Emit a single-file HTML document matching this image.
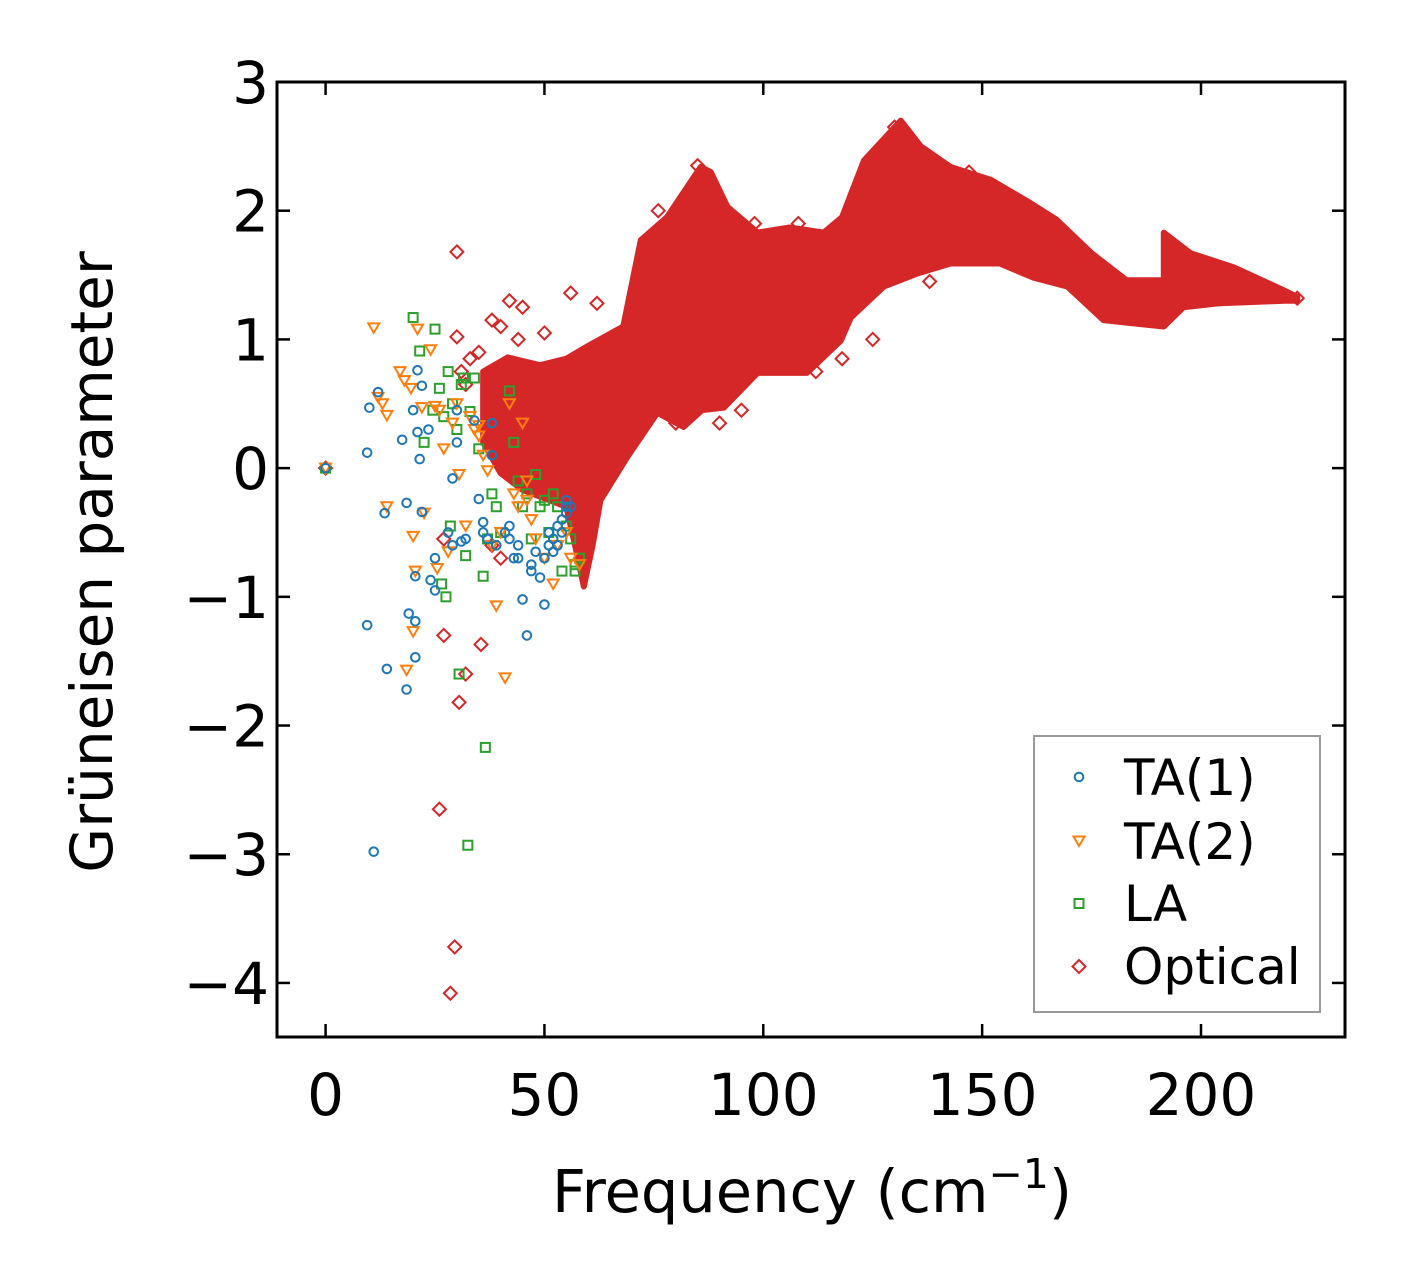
<!DOCTYPE html>
<html><head><meta charset="utf-8">
<style>
html,body{margin:0;padding:0;background:#fff;}
svg{display:block;font-family:"DejaVu Sans","Liberation Sans",sans-serif;}
</style></head>
<body>
<svg id="chart" width="1406" height="1286" viewBox="0 0 1406 1286"></svg>
<script>
// ---- data ----
const xTicks = [0, 50, 100, 150, 200];
const yTicks = [-4, -3, -2, -1, 0, 1, 2, 3];
const yTickLabels = ["\u22124", "\u22123", "\u22122", "\u22121", "0", "1", "2", "3"];
const ta1X = [0,9.5,10,12,13.5,17.5,18.5,20,21,21,21.5,22,22,23.5,9.5,11,14,18.5,19,20.5,20.5,20.5,24,25,25,28,29,29,30,31,32,35,36,36,38,38,39,41,42,43,44,45,46,47,48,49,50,50,51,52,53,54,55,55,53,56,47,44,42,37,30,34,54,55,52,51];
const ta1Y = [0,0.12,0.47,0.59,-0.35,0.22,-0.27,0.45,0.76,0.28,0.07,0.64,-0.34,0.3,-1.22,-2.98,-1.56,-1.72,-1.13,-1.19,-1.47,-0.84,-0.87,-0.7,-0.95,-0.5,-0.6,-0.08,0.2,-0.57,-0.55,-0.24,-0.42,-0.5,0.35,0.1,-0.6,-0.5,-0.55,-0.7,-0.6,-1.02,-1.3,-0.75,-0.65,-0.85,-1.06,-0.7,-0.6,-0.55,-0.45,-0.4,-0.35,-0.25,-0.6,-0.3,-0.8,-0.7,-0.45,-0.55,0.45,0.37,-0.5,-0.3,-0.65,-0.5];
const ta2X = [0,11,12,13,14,14,17,18,18.5,19.5,20,20,20.5,21,22,22.5,24,25,25.5,26,27,28,29,30,30.5,32,33,34,35,36,37,38,39,40,41,42,43,44,45,46,47,48,50,52,53,55,56,58,35,46];
const ta2Y = [0,1.09,0.55,0.5,0.41,-0.3,0.75,0.68,-1.57,0.62,-1.27,-0.53,-0.8,1.08,0.47,-0.35,0.92,0.48,-0.78,0.45,0.15,-0.65,0.35,0.5,-0.05,-0.45,0.4,0.3,0.25,0.1,-0.02,-0.6,-1.07,-0.5,-1.63,0.5,-0.2,-0.3,0.35,-0.25,-0.4,-0.55,-0.7,-0.9,-0.6,-0.5,-0.7,-0.75,0.33,-0.1];
const laX = [0,20,21.5,22.5,25,24.5,26,27,27.5,26.5,28,28.5,29,30,30.5,31,31.5,32,32.5,33,34,35,36,36.5,37,38,39,40,42,43,44,45,46,47,48,49,50,51,52,53,55,56,57,57,58,54];
const laY = [0,1.17,0.91,0.2,1.08,0.45,0.62,0.4,-1.0,-0.9,0.75,-0.45,0.5,0.3,-1.6,0.65,0.7,-0.68,-2.93,0.44,0.7,0.15,-0.84,-2.17,-0.55,-0.2,-0.3,-0.5,0.6,0.2,-0.1,-0.3,-0.2,-0.55,-0.05,-0.3,-0.25,-0.5,-0.2,-0.3,-0.45,-0.55,-0.75,-0.8,-0.7,-0.8];
// optical dense band envelope (upper and lower edges)
const bandUpX = [36,41.6,49,55,60,68,72,78,85.7,88,91.8,98.7,106,113.8,118,123,131.4,136,142.8,152,161,167,175,183,191.5,191.5,197.6,207.5,219,222];
const bandUpY = [0.75,0.86,0.8,0.85,0.95,1.1,1.77,1.95,2.34,2.3,2.03,1.83,1.87,1.83,1.95,2.39,2.7,2.5,2.34,2.24,2.06,1.93,1.67,1.46,1.46,1.83,1.67,1.56,1.38,1.33];
const bandLoX = [36,40,45,55,57,59,61,62.8,69,75.8,81.8,86,91,98.7,110,117.7,120,127.5,135,142.8,154,161.7,169.5,177.7,191.5,196,203.8,219,222];
const bandLoY = [0.2,-0.04,-0.17,-0.3,-0.6,-0.92,-0.6,-0.25,0.09,0.43,0.32,0.45,0.47,0.74,0.74,0.99,1.17,1.41,1.51,1.59,1.59,1.48,1.41,1.15,1.1,1.25,1.28,1.3,1.3];
const optX = [30,26,29.5,28.5,27,30.5,32,35.5,30,40,38,56,62,48,42,45,130,138,147,125,112,118,95,90,80,105,222,98,108,85,76,73,35,38,50,33,31,0,27,32,40,44];
const optY = [1.68,-2.65,-3.72,-4.08,-1.3,-1.82,-1.6,-1.37,1.02,-0.7,-0.6,1.36,1.28,0.3,1.3,1.25,2.65,1.45,2.3,1.0,0.75,0.85,0.45,0.35,0.35,0.8,1.32,1.9,1.9,2.35,2.0,1.3,0.9,1.15,1.05,0.85,0.75,0,-0.55,0.65,1.1,1.0];

// ---- layout ----
const L = 277, R = 1345, T = 82, B = 1037;
const xMin = -11.1, xMax = 232.9, yMin = -4.42, yMax = 3.0;
const sx = v => L + (v - xMin) / (xMax - xMin) * (R - L);
const sy = v => B - (v - yMin) / (yMax - yMin) * (B - T);
const NS = "http://www.w3.org/2000/svg";
const svg = document.getElementById('chart');
function mk(tag, attrs, parent) {
  const e = document.createElementNS(NS, tag);
  for (const k in attrs) e.setAttribute(k, attrs[k]);
  (parent || svg).appendChild(e);
  return e;
}
const C = {ta1:"#1f77b4", ta2:"#ff7f0e", la:"#2ca02c", opt:"#d62728"};

function marker(kind, cx, cy, parent) {
  let e;
  if (kind === 'circle') e = mk('circle', {cx, cy, r: 4.3, fill:'none', stroke:C.ta1, 'stroke-width':2}, parent);
  else if (kind === 'tri') e = mk('polygon', {points:`${cx-5.5},${cy-4.5} ${cx+5.5},${cy-4.5} ${cx},${cy+5}`, fill:'none', stroke:C.ta2, 'stroke-width':2}, parent);
  else if (kind === 'square') e = mk('rect', {x:cx-4.5, y:cy-4.5, width:9, height:9, fill:'none', stroke:C.la, 'stroke-width':2}, parent);
  else e = mk('polygon', {points:`${cx},${cy-6.5} ${cx+6.5},${cy} ${cx},${cy+6.5} ${cx-6.5},${cy}`, fill:'none', stroke:C.opt, 'stroke-width':2}, parent);
  return e;
}

// optical band
const gOpt = mk('g', {});


let pts = bandUpX.map((x,i)=>`${sx(x)},${sy(bandUpY[i])}`);
for (let i = bandLoX.length-1; i >= 0; i--) pts.push(`${sx(bandLoX[i])},${sy(bandLoY[i])}`);
const band = mk('polygon', {points: pts.join(' '), fill:C.opt, stroke:C.opt, 'stroke-width':6, 'stroke-linejoin':'round'}, gOpt);


optX.forEach((x,i)=>{
  const m = marker('diamond', sx(x), sy(optY[i]), gOpt);
  
  
});
const gLA = mk('g', {});


laX.forEach((x,i)=>{
  const m = marker('square', sx(x), sy(laY[i]), gLA);
  
  
});
const gT2 = mk('g', {});


ta2X.forEach((x,i)=>{
  const m = marker('tri', sx(x), sy(ta2Y[i]), gT2);
  
  
});
const gT1 = mk('g', {});


ta1X.forEach((x,i)=>{
  const m = marker('circle', sx(x), sy(ta1Y[i]), gT1);
  
  
});

// axes frame
const frame = mk('rect', {x:L, y:T, width:R-L, height:B-T, fill:'none', stroke:'#000', 'stroke-width':3});



const gx = mk('g', {});


xTicks.forEach(v=>{
  const X = sx(v);
  mk('line', {x1:X, y1:B, x2:X, y2:B-13, stroke:'#000', 'stroke-width':2.5}, gx);
  mk('line', {x1:X, y1:T, x2:X, y2:T+13, stroke:'#000', 'stroke-width':2.5}, gx);
  const t = mk('text', {x:X, y:1115, 'text-anchor':'middle', 'font-size':58, fill:'#000'}, gx);
  t.textContent = String(v);
  
  
});
const gy = mk('g', {});


yTicks.forEach((v,i)=>{
  const Y = sy(v);
  mk('line', {x1:L, y1:Y, x2:L+13, y2:Y, stroke:'#000', 'stroke-width':2.5}, gy);
  mk('line', {x1:R, y1:Y, x2:R-13, y2:Y, stroke:'#000', 'stroke-width':2.5}, gy);
  const t = mk('text', {x:269, y:Y+21, 'text-anchor':'end', 'font-size':58, fill:'#000'}, gy);
  t.textContent = yTickLabels[i];
  
  
});
</script>
<svg style="position:absolute;left:0;top:0" width="1406" height="1286">
  <text x="812" y="1212" text-anchor="middle" font-size="59" font-family="DejaVu Sans, Liberation Sans, sans-serif">Frequency (cm<tspan dy="-24" font-size="41">−1</tspan><tspan dy="24">)</tspan></text>
  <text transform="translate(112,562) rotate(-90)" text-anchor="middle" font-size="58" font-family="DejaVu Sans, Liberation Sans, sans-serif">Grüneisen parameter</text>
  <g>
    <rect x="1034" y="736" width="286" height="276" fill="#fff" fill-opacity="0.8" stroke="#999" stroke-width="2"/>
    <g>
      <circle cx="1079" cy="777" r="4.3" fill="none" stroke="#1f77b4" stroke-width="2"/>
      <text x="1124" y="795" font-size="50" font-family="DejaVu Sans, Liberation Sans, sans-serif">TA(1)</text>
    </g>
    <g>
      <polygon points="1073.5,836.5 1084.5,836.5 1079,846" fill="none" stroke="#ff7f0e" stroke-width="2"/>
      <text x="1124" y="859" font-size="50" font-family="DejaVu Sans, Liberation Sans, sans-serif">TA(2)</text>
    </g>
    <g>
      <rect x="1074.5" y="899" width="9" height="9" fill="none" stroke="#2ca02c" stroke-width="2"/>
      <text x="1124" y="921" font-size="50" font-family="DejaVu Sans, Liberation Sans, sans-serif">LA</text>
    </g>
    <g>
      <polygon points="1079,960 1085.5,966.5 1079,973 1072.5,966.5" fill="none" stroke="#d62728" stroke-width="2"/>
      <text x="1124" y="984" font-size="50" font-family="DejaVu Sans, Liberation Sans, sans-serif">Optical</text>
    </g>
  </g>
</svg>
</body></html>
